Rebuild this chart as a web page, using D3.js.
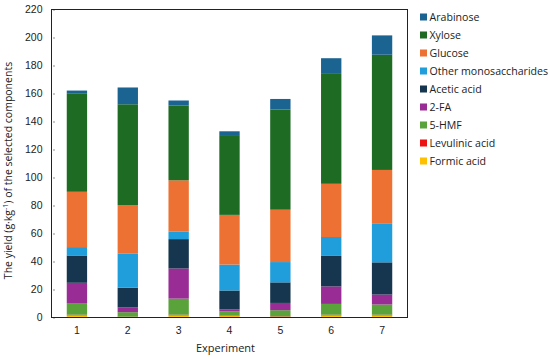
<!DOCTYPE html>
<html lang="en">
<head>
<meta charset="UTF-8">
<title>Yield of selected components</title>
<script src="https://d3js.org/d3.v7.min.js"></script>
<style>
 body {margin: 0; padding: 0; background: #fff;}
 svg {display: block; font-family: "Open Sans", sans-serif;}
 .tick text {font-size: 10.5px; fill: #222;}
 .legend text {font-size: 10.6px; fill: #222;}
</style>
</head>
<body>
<svg id="chart" width="550" height="359"></svg>
<script>
// data (g/kg per segment, bottom to top)
const experiments = ['1', '2', '3', '4', '5', '6', '7'];
const components = ['Formic acid', 'Levulinic acid', '5-HMF', '2-FA', 'Acetic acid',
  'Other monosaccharides', 'Glucose', 'Xylose', 'Arabinose'];
const colors = ['#ffc000', '#ee1111', '#5aa33a', '#9a2c95', '#16354f',
  '#1f9edb', '#ed7132', '#1e6b24', '#1b6391'];
const formic    = [1.5, 0.4, 1.5, 1.0, 0.5, 1.5, 1.5];
const levulinic = [0.5, 0.2, 0.5, 0.3, 0.3, 0.5, 0.5];
const hmf       = [8.3, 3.2, 11.5, 3.0, 4.4, 7.7, 7.3];
const fa2       = [14.5, 3.5, 21.5, 1.5, 5.2, 12.5, 7.1];
const acetic    = [19.5, 14.0, 21.0, 13.5, 14.7, 21.8, 23.0];
const otherMono = [6.0, 24.5, 5.5, 18.5, 14.5, 13.5, 27.5];
const glucose   = [39.5, 34.5, 36.5, 35.5, 37.4, 38.0, 38.5];
const xylose    = [70.0, 72.0, 53.5, 57.0, 71.5, 78.5, 82.3];
const arabinose = [2.3, 12.0, 3.5, 2.7, 7.6, 11.2, 13.8];
const yTicks = [0, 20, 40, 60, 80, 100, 120, 140, 160, 180, 200, 220];

const series = [formic, levulinic, hmf, fa2, acetic, otherMono, glucose, xylose, arabinose];

const svg = d3.select('#chart');
const margin = {left: 51.5, right: 142.5, top: 9.5, bottom: 41.5};
const W = 550, H = 359;
const innerW = W - margin.left - margin.right;
const innerH = H - margin.top - margin.bottom;

const table = experiments.map((e, i) => {
  const row = {exp: e};
  components.forEach((c, k) => { row[c] = series[k][i]; });
  return row;
});
const stacked = d3.stack().keys(components)(table);

const x = d3.scaleBand().domain(experiments).range([0, innerW]).paddingInner(0.6).paddingOuter(0.3);
const y = d3.scaleLinear().domain([0, 220]).range([innerH, 0]);

const g = svg.append('g').attr('transform', `translate(${margin.left},${margin.top})`);

g.selectAll('g.layer').data(stacked).enter()
  .append('g').attr('class', 'layer')
  .attr('fill', (d, k) => colors[k])
  .selectAll('rect').data(d => d).enter()
  .append('rect')
  .attr('x', d => x(d.data.exp))
  .attr('width', x.bandwidth())
  .attr('y', d => y(d[1]))
  .attr('height', d => Math.max(0, y(d[0]) - y(d[1])));

// frame
g.append('rect').attr('width', innerW).attr('height', innerH)
  .attr('fill', 'none').attr('stroke', '#222').attr('stroke-width', 1);

// y axis
const yAxis = g.append('g').call(d3.axisLeft(y).tickValues(yTicks).tickSize(-3).tickPadding(9));
yAxis.select('.domain').remove();
yAxis.selectAll('line').attr('stroke', '#222').attr('x1', 2);

// x axis
const xAxis = g.append('g').attr('transform', `translate(0,${innerH})`)
  .call(d3.axisBottom(x).tickSize(0).tickPadding(9));
xAxis.select('.domain').remove();

// axis titles
svg.append('text')
  .attr('x', margin.left + innerW / 2 - 4).attr('y', 352)
  .attr('text-anchor', 'middle').attr('font-size', 11).attr('fill', '#222')
  .text('Experiment');

const yt = svg.append('text')
  .attr('transform', `translate(12,${margin.top + innerH / 2 + 7}) rotate(-90)`)
  .attr('text-anchor', 'middle').attr('font-size', 10.5).attr('fill', '#222');
yt.append('tspan').text('The yield (g·kg');
yt.append('tspan').attr('dy', -4).attr('font-size', 7).text('-1');
yt.append('tspan').attr('dy', 4).text(') of the selected components');

// legend, top entry = last series
const legend = svg.append('g').attr('class', 'legend').attr('transform', 'translate(420,17)');
const order = components.slice().reverse();
const item = legend.selectAll('g').data(order).enter()
  .append('g').attr('transform', (d, i) => `translate(0,${i * 18})`);
item.append('rect').attr('x', 0).attr('y', -3.5).attr('width', 7).attr('height', 7)
  .attr('fill', d => colors[components.indexOf(d)]);
item.append('text').attr('x', 9.5).attr('y', 3.8).text(d => d);
</script>
</body>
</html>
